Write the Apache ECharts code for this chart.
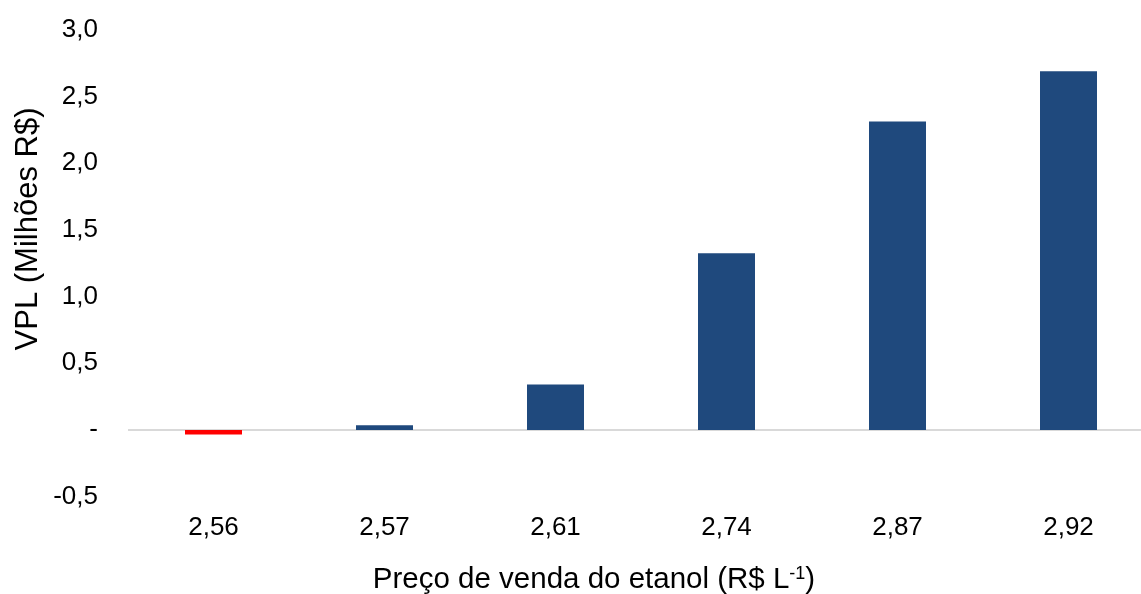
<!DOCTYPE html>
<html>
<head>
<meta charset="utf-8">
<script src="https://cdn.jsdelivr.net/npm/echarts@6/dist/echarts.min.js"></script>
<style>
  html, body { margin: 0; padding: 0; background: #ffffff; overflow: hidden; }
  /* plot area runs slightly past the right edge of the window */
  #chart { width: 1154px; height: 594px; }
</style>
</head>
<body>
<div id="chart"></div>
<script>
// Ethanol sale price (R$ per litre) and resulting NPV (million R$)
const categories = ['2,56', '2,57', '2,61', '2,74', '2,87', '2,92'];
const npvValues = [-0.035, 0.035, 0.34, 1.325, 2.313, 2.69];
const yTicks = [-0.5, 0, 0.5, 1.0, 1.5, 2.0, 2.5, 3.0];

const FONT = '"Liberation Sans", Arial, sans-serif';
const POS_COLOR = '#1f497d';
const NEG_COLOR = '#ff0000';

const fmtTick = v => (Math.abs(v) < 1e-9 ? '-' : v.toFixed(1).replace('.', ','));

const chart = echarts.init(document.getElementById('chart'), null, { renderer: 'canvas' });

chart.setOption({
  backgroundColor: '#ffffff',
  animation: false,
  grid: { left: 128, right: 0, top: 30, bottom: 97.4, containLabel: false },
  xAxis: {
    type: 'category',
    data: categories,
    axisLine: { show: false, onZero: false },
    axisTick: { show: false },
    axisLabel: { color: '#000', fontFamily: FONT, fontSize: 26, margin: 18 },
    splitLine: { show: false }
  },
  yAxis: {
    type: 'value',
    min: yTicks[0],
    max: yTicks[yTicks.length - 1],
    interval: 0.5,
    axisLine: { show: false },
    axisTick: { show: false },
    splitLine: { show: false },
    axisLabel: { color: '#000', fontFamily: FONT, fontSize: 26, margin: 30, formatter: fmtTick }
  },
  series: [{
    type: 'bar',
    barWidth: 57,
    data: npvValues.map(v => ({ value: v, itemStyle: { color: v < 0 ? NEG_COLOR : POS_COLOR } })),
    markLine: {
      silent: true,
      symbol: 'none',
      label: { show: false },
      lineStyle: { color: '#d9d9d9', width: 2, type: 'solid' },
      data: [{ yAxis: 0 }],
      z: 1
    },
    z: 2
  }],
  graphic: [
    {
      type: 'text',
      x: 28, y: 229,
      rotation: Math.PI / 2,
      style: {
        text: 'VPL (Milhões R$)',
        font: '31px ' + FONT,
        fill: '#000',
        align: 'center',
        verticalAlign: 'middle'
      }
    },
    {
      type: 'text',
      x: 594, y: 580,
      style: {
        text: 'Preço de venda do etanol (R$ L{sup|-1})',
        font: '29.5px ' + FONT,
        fill: '#000',
        align: 'center',
        verticalAlign: 'middle',
        rich: {
          sup: { fontSize: 18, fontFamily: FONT, verticalAlign: 'top', padding: [0, 0, 12, 0] }
        }
      }
    }
  ]
});
</script>
</body>
</html>
